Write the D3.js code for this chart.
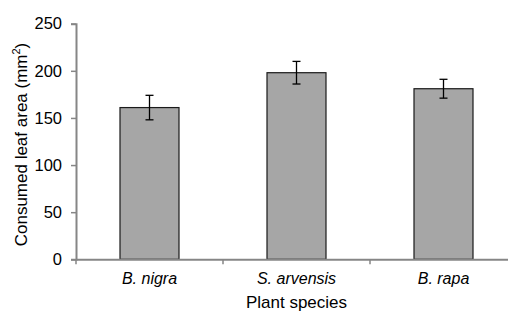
<!DOCTYPE html>
<html>
<head>
<meta charset="utf-8">
<script src="https://cdn.jsdelivr.net/npm/d3@7"></script>
<style>
  body { margin: 0; background: #fff; }
  svg text { font-family: "Liberation Sans", Arial, sans-serif; fill: #000; }
</style>
</head>
<body>
<div id="app"></div>
<script>
// data
var species = ['B. nigra', 'S. arvensis', 'B. rapa'];
var consumed = [161, 198, 181];
var errors = [13, 12, 10];
var yTicks = [0, 50, 100, 150, 200, 250];

var width = 508, height = 311;
var plotLeft = 76, plotTop = 23.7, plotBottom = 259.3, plotRight = 517;

var svg = d3.select('#app')
  .append('svg')
  .attr('width', width)
  .attr('height', height);

var x = d3.scaleBand()
  .domain(species)
  .range([plotLeft, plotRight]);

var y = d3.scaleLinear()
  .domain([0, 250])
  .range([plotBottom, plotTop]);

var barW = 59;

// bars
svg.append('g')
  .selectAll('rect')
  .data(consumed)
  .enter()
  .append('rect')
  .attr('x', function (d, i) { return x(species[i]) + x.bandwidth() / 2 - barW / 2; })
  .attr('y', function (d) { return y(d); })
  .attr('width', barW)
  .attr('height', function (d) { return y(0) - y(d); })
  .attr('fill', '#a6a6a6')
  .attr('stroke', '#1a1a1a')
  .attr('stroke-width', 1.2);

// error bars
var eb = svg.append('g')
  .attr('stroke', '#000')
  .attr('stroke-width', 1.3);
consumed.forEach(function (d, i) {
  var cx = x(species[i]) + x.bandwidth() / 2;
  var hi = y(d + errors[i]), lo = y(d - errors[i]);
  eb.append('line').attr('x1', cx).attr('x2', cx).attr('y1', hi).attr('y2', lo);
  eb.append('line').attr('x1', cx - 4).attr('x2', cx + 4).attr('y1', hi).attr('y2', hi);
  eb.append('line').attr('x1', cx - 4).attr('x2', cx + 4).attr('y1', lo).attr('y2', lo);
});

// y axis
var yAxis = svg.append('g')
  .attr('transform', 'translate(' + plotLeft + ',0)')
  .call(d3.axisLeft(y).tickValues(yTicks).tickSize(5).tickPadding(9));
yAxis.select('.domain').attr('stroke', '#868686').attr('stroke-width', 2);
yAxis.selectAll('.tick line').attr('stroke', '#868686').attr('stroke-width', 1.5);
yAxis.selectAll('text').style('font-size', '16.5px').attr('fill', '#000');

// x axis
var xAxis = svg.append('g')
  .attr('transform', 'translate(0,' + plotBottom + ')')
  .call(d3.axisBottom(x).tickSize(0).tickPadding(13));
xAxis.select('.domain').attr('stroke', '#868686').attr('stroke-width', 2);
xAxis.selectAll('text').style('font-size', '16px').style('font-style', 'italic').attr('fill', '#000');

// category boundary ticks
svg.append('g')
  .selectAll('line')
  .data(species)
  .enter()
  .append('line')
  .attr('x1', function (d) { return x(d); })
  .attr('x2', function (d) { return x(d); })
  .attr('y1', plotBottom)
  .attr('y2', plotBottom + 5)
  .attr('stroke', '#868686')
  .attr('stroke-width', 1.5);

// axis titles
svg.append('text')
  .attr('x', (plotLeft + plotRight) / 2)
  .attr('y', 308)
  .attr('text-anchor', 'middle')
  .style('font-size', '17px')
  .text('Plant species');

var yt = svg.append('text')
  .attr('transform', 'translate(27,' + ((plotTop + plotBottom) / 2 + 3) + ') rotate(-90)')
  .attr('text-anchor', 'middle')
  .style('font-size', '17px');
yt.append('tspan').text('Consumed leaf area (mm');
yt.append('tspan').attr('dy', -7).style('font-size', '11px').text('2');
yt.append('tspan').attr('dy', 7).text(')');
</script>
</body>
</html>
